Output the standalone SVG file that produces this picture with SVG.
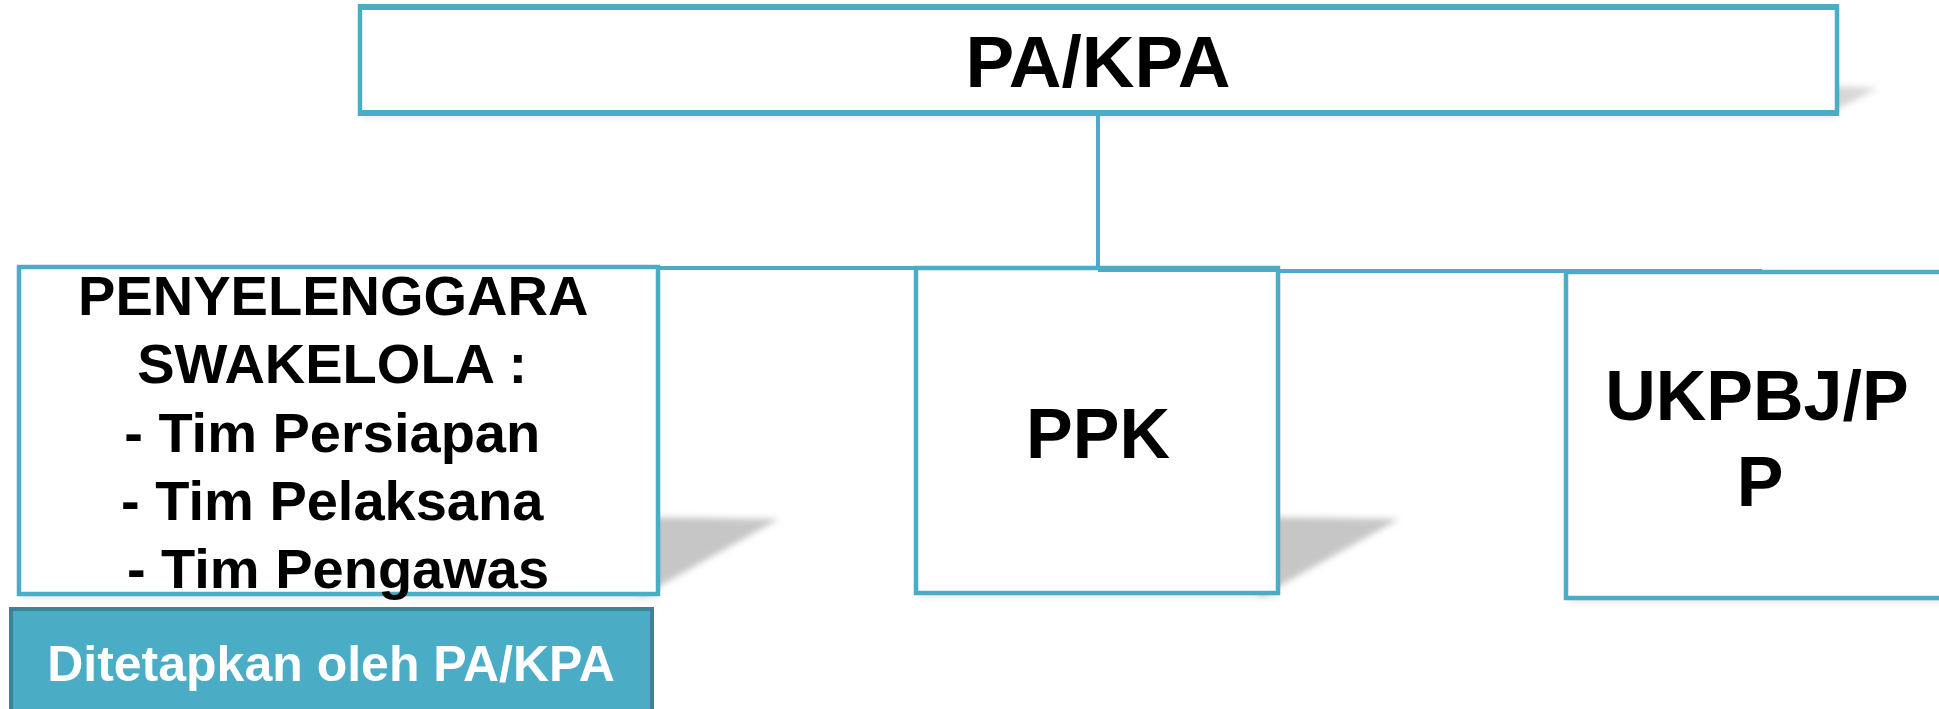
<svg xmlns="http://www.w3.org/2000/svg" width="1939" height="709" viewBox="0 0 1939 709">
  <style>
    .box { fill: #ffffff; stroke: #4BACC6; stroke-width: 4.5; }
    .edge { stroke: #4BACC6; stroke-width: 6; fill: none; }
    .conn { stroke: #4BACC6; stroke-width: 4; fill: none; stroke-linecap: square; }
    .lbl { font-family: "Liberation Sans", Arial, sans-serif; font-weight: bold; fill: #000000; text-anchor: middle; }
    .curl { fill: #c6c6c6; filter: url(#soft); }
    .haze { fill: #000000; opacity: 0.08; filter: url(#soft); }
    .note { fill: #4BACC6; stroke: #3B8397; stroke-width: 4; }
    .notetxt { font-family: "Liberation Sans", Arial, sans-serif; font-weight: bold; fill: #ffffff; text-anchor: middle; }
  </style>
  <defs>
    <filter id="soft" x="-20%" y="-20%" width="140%" height="140%">
      <feGaussianBlur stdDeviation="3"/>
    </filter>
  </defs>

  <rect width="1939" height="709" fill="#ffffff"/>

  <!-- curled shadows behind the boxes -->
  <g id="shadows">
    <polygon class="curl" points="1830,86 1878,88 1830,113" opacity="0.7"/>
    <polygon class="curl" points="640,517 779,519 640,597"/>
    <polygon class="curl" points="1260,517 1399,519 1260,597"/>
    <rect class="haze" x="362" y="12" width="1475" height="106"/>
    <rect class="haze" x="21" y="272" width="637" height="327"/>
    <rect class="haze" x="918" y="273" width="360" height="325"/>
    <rect class="haze" x="1568" y="277" width="400" height="326"/>
  </g>

  <!-- connectors -->
  <g id="connectors">
    <path class="conn" d="M1098,113 V270"/>
    <path class="conn" d="M1098,268 H338"/>
    <path class="conn" d="M1098,271 H1760"/>
  </g>

  <g id="node-pakpa">
    <rect class="box" x="360" y="7" width="1477" height="106"/>
    <line class="edge" x1="358" y1="7" x2="1839" y2="7"/>
    <line class="edge" x1="358" y1="113" x2="1839" y2="113"/>
    <text class="lbl" x="1098" y="87" font-size="73">PA/KPA</text>
  </g>

  <g id="node-penyelenggara">
    <rect class="box" x="19" y="267" width="639" height="327"/>
    <text class="lbl" font-size="56">
      <tspan x="340" y="315">PENYELENGGARA</tspan>
      <tspan x="340" y="383">SWAKELOLA :</tspan>
      <tspan x="340" y="452">- Tim Persiapan</tspan>
      <tspan x="340" y="520">- Tim Pelaksana</tspan>
      <tspan x="338" y="588">- Tim Pengawas</tspan>
    </text>
  </g>

  <g id="node-ppk">
    <rect class="box" x="916" y="268" width="362" height="325"/>
    <line class="edge" x1="1098" y1="269" x2="1279" y2="269"/>
    <text class="lbl" x="1098" y="458" font-size="70">PPK</text>
  </g>

  <g id="node-ukpbj">
    <rect class="box" x="1566" y="272" width="400" height="326"/>
    <text class="lbl" font-size="70">
      <tspan x="1766" y="420">UKPBJ/P</tspan>
      <tspan x="1760" y="506">P</tspan>
    </text>
  </g>

  <g id="node-ditetapkan">
    <rect class="note" x="11" y="609" width="641" height="112"/>
    <text class="notetxt" x="331" y="681" font-size="50">Ditetapkan oleh PA/KPA</text>
  </g>
</svg>
